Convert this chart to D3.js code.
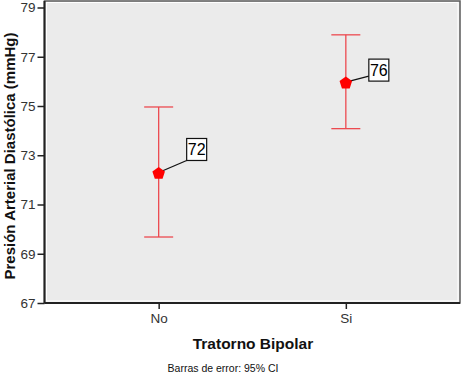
<!DOCTYPE html>
<html>
<head>
<meta charset="utf-8">
<script src="https://cdn.jsdelivr.net/npm/d3@7"></script>
<style>
  body { margin: 0; background: #fff; }
  #chart { width: 464px; height: 373px; }
  text { font-family: "Liberation Sans", Arial, sans-serif; }
</style>
</head>
<body>
<div id="chart"></div>
<script>

// data
const categories = ["No", "Si"];
const means = [72.3, 75.97];
const lower = [69.68, 74.08];
const upper = [74.96, 77.89];
const labels = ["72", "76"];
const yTicks = [67, 69, 71, 73, 75, 77, 79];

const width = 464;
const height = 373;

const svg = d3.select("#chart")
    .append("svg")
    .attr("width", width)
    .attr("height", height);

const margin = { top: 7.5, left: 44.5, right: 4, bottom: 70 };

const xScale = d3.scalePoint()
    .domain(categories)
    .range([margin.left, width - margin.right])
    .padding(0.61);

const yScale = d3.scaleLinear()
    .domain([67, 79])
    .range([height - margin.bottom, margin.top]);

// plot background + frame
svg.append("rect")
    .attr("x", margin.left)
    .attr("y", 1)
    .attr("width", width - margin.right - margin.left)
    .attr("height", yScale(67) - 1)
    .attr("fill", "#ebebeb")
    .attr("stroke", "#5a5a5a")
    .attr("stroke-width", 1.5);

svg.append("rect")
    .attr("x", margin.left + 2)
    .attr("y", 2.5)
    .attr("width", width - margin.right - margin.left - 4)
    .attr("height", yScale(67) - 4.5)
    .attr("fill", "none")
    .attr("stroke", "#ffffff")
    .attr("stroke-width", 1);

// axes
const yAxis = svg.append("g")
    .attr("transform", `translate(${margin.left},0)`)
    .call(d3.axisLeft(yScale).tickValues(yTicks).tickSize(7).tickPadding(2));

const xAxis = svg.append("g")
    .attr("transform", `translate(0,${yScale(67)})`)
    .call(d3.axisBottom(xScale).tickSize(6).tickPadding(4));

[yAxis, xAxis].forEach(function(a) {
    a.select(".domain").attr("stroke", "#222").attr("stroke-width", 2);
    a.selectAll(".tick line").attr("stroke", "#222").attr("stroke-width", 1.5);
    a.selectAll(".tick text")
        .attr("fill", "#333")
        .style("font-size", "13.5px")
        .style("font-family", "'Liberation Sans', Arial, sans-serif");
});
yAxis.select(".domain").attr("d", `M0,${yScale(67)}V1`);
xAxis.select(".domain").attr("d", `M${margin.left},0H${width - margin.right}`);

// error bars
const capHalf = 14.5;
const bars = svg.append("g")
    .attr("stroke", "#ec4a50")
    .attr("stroke-width", 1.3);

bars.selectAll(".stem")
    .data(categories)
    .enter()
    .append("line")
        .attr("x1", d => xScale(d))
        .attr("x2", d => xScale(d))
        .attr("y1", (d, i) => yScale(upper[i]))
        .attr("y2", (d, i) => yScale(lower[i]));

bars.selectAll(".capTop")
    .data(categories)
    .enter()
    .append("line")
        .attr("x1", d => xScale(d) - capHalf)
        .attr("x2", d => xScale(d) + capHalf)
        .attr("y1", (d, i) => yScale(upper[i]))
        .attr("y2", (d, i) => yScale(upper[i]));

bars.selectAll(".capBottom")
    .data(categories)
    .enter()
    .append("line")
        .attr("x1", d => xScale(d) - capHalf)
        .attr("x2", d => xScale(d) + capHalf)
        .attr("y1", (d, i) => yScale(lower[i]))
        .attr("y2", (d, i) => yScale(lower[i]));

// value labels with leader lines
const labelOffset = [[28, -12], [23, -6]];
const boxW = 20, boxH = 22;

categories.forEach(function(c, i) {
    const cx = xScale(c);
    const cy = yScale(means[i]);
    const bx = cx + labelOffset[i][0];
    const by = cy + labelOffset[i][1];
    const top = i === 0 ? by - boxH : by - boxH + 5;

    svg.append("line")
        .attr("x1", cx).attr("y1", cy)
        .attr("x2", bx).attr("y2", by)
        .attr("stroke", "#111")
        .attr("stroke-width", 1.3);

    svg.append("rect")
        .attr("x", bx)
        .attr("y", top)
        .attr("width", boxW)
        .attr("height", boxH)
        .attr("fill", "#fff")
        .attr("stroke", "#111")
        .attr("stroke-width", 1.2);

    svg.append("text")
        .attr("x", bx + boxW / 2)
        .attr("y", top + boxH / 2 + 6)
        .attr("text-anchor", "middle")
        .style("font-size", "16px")
        .attr("fill", "#000")
        .text(labels[i]);
});

// pentagon markers
const r = 6.6;
const pentagon = d3.range(5).map(function(k) {
    const a = -Math.PI / 2 + k * 2 * Math.PI / 5;
    return [r * Math.cos(a), r * Math.sin(a) + 1];
});

svg.selectAll(".marker")
    .data(categories)
    .enter()
    .append("path")
        .attr("transform", (d, i) => `translate(${xScale(d)},${yScale(means[i])})`)
        .attr("d", d3.line()(pentagon) + "Z")
        .attr("fill", "#ff0000");

// axis titles
svg.append("text")
    .attr("transform", "rotate(-90)")
    .attr("x", -156)
    .attr("y", 15)
    .attr("text-anchor", "middle")
    .style("font-size", "15px")
    .style("font-weight", "bold")
    .attr("fill", "#111")
    .text("Presión Arterial Diastólica (mmHg)");

svg.append("text")
    .attr("x", 253)
    .attr("y", 349)
    .attr("text-anchor", "middle")
    .style("font-size", "15.5px")
    .style("font-weight", "bold")
    .attr("fill", "#111")
    .text("Tratorno Bipolar");

svg.append("text")
    .attr("x", 223)
    .attr("y", 372)
    .attr("text-anchor", "middle")
    .style("font-size", "10.5px")
    .attr("fill", "#111")
    .text("Barras de error: 95% CI");

</script>
</body>
</html>
